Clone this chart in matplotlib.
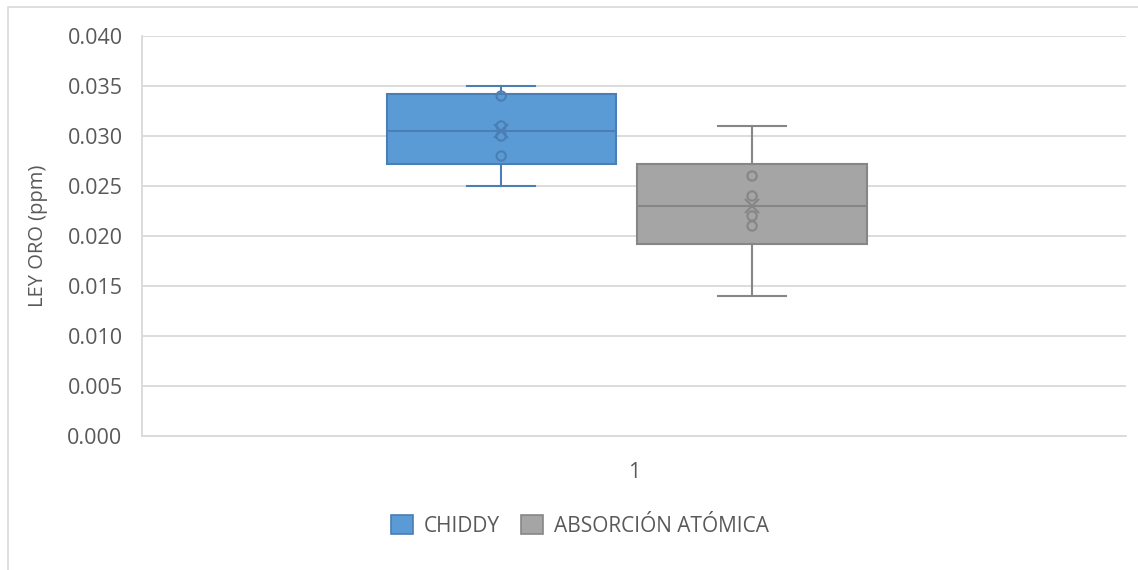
import numpy as np
import matplotlib
matplotlib.use("Agg")
import matplotlib.pyplot as plt
from matplotlib.patches import Patch, Rectangle

# readings per method (ppm)
series_names = ["CHIDDY", "ABSORCIÓN ATÓMICA"]
chiddy = [0.035, 0.034, 0.031, 0.030, 0.028, 0.025]
absorcion = [0.031, 0.026, 0.024, 0.022, 0.021, 0.014]
category_labels = ["1"]

plt.rcParams['font.family'] = ['Open Sans', 'DejaVu Sans']
text_color = '#595959'

fill_colors = ['#5B9BD5', '#A5A5A5']
edge_colors = ['#4A7EB4', '#868686']


def excel_stats(vals, label):
    v = np.array(vals)
    # Excel box & whisker uses exclusive quartiles
    q1, med, q3 = np.percentile(v, [25, 50, 75], method='weibull')
    return dict(label=label, q1=q1, med=med, q3=q3,
                whislo=v.min(), whishi=v.max(), mean=v.mean(), fliers=[])


fig = plt.figure(figsize=(11.38, 5.70), dpi=100)
ax = fig.add_axes([142 / 1138, 1 - 436 / 570, 984 / 1138, 400 / 570])

positions = [0.865, 1.12]
for data, name, pos, fc, ec in zip([chiddy, absorcion], series_names, positions,
                                   fill_colors, edge_colors):
    st = excel_stats(data, name)
    ax.bxp([st], positions=[pos], widths=0.233, capwidths=0.069,
           showmeans=True, showfliers=False, patch_artist=True,
           boxprops=dict(facecolor=fc, edgecolor=ec, linewidth=1.5),
           medianprops=dict(color=ec, linewidth=1.5),
           whiskerprops=dict(color=ec, linewidth=1.5),
           capprops=dict(color=ec, linewidth=1.5),
           meanprops=dict(marker='x', markeredgecolor=ec, markersize=10,
                          markeredgewidth=1.5),
           zorder=3)
    inner = [d for d in data if st['whislo'] < d < st['whishi']]
    ax.scatter([pos] * len(inner), inner, s=45, facecolors='none',
               edgecolors=ec, linewidths=1.5, zorder=4)

ax.set_xlim(0.5, 1.5)
ax.set_ylim(0, 0.040)
ax.set_yticks(np.arange(0, 0.0401, 0.005))
ax.yaxis.set_major_formatter(matplotlib.ticker.FormatStrFormatter('%.3f'))
ax.set_xticks([1])
ax.set_xticklabels(category_labels)
ax.tick_params(axis='both', length=0, labelsize=15.5, colors=text_color)
ax.tick_params(axis='y', pad=14)
ax.tick_params(axis='x', pad=19)
ax.grid(axis='y', color='#D9D9D9', linewidth=1.3)
ax.set_axisbelow(True)
for side in ['top', 'right']:
    ax.spines[side].set_visible(False)
ax.spines['left'].set_color('#D9D9D9')
ax.spines['bottom'].set_color('#D9D9D9')
ax.spines['left'].set_linewidth(1.3)
ax.spines['bottom'].set_linewidth(1.3)

ax.set_ylabel('LEY ORO (ppm)', fontsize=14.5, color=text_color, labelpad=14)

handles = [Patch(facecolor=fc, edgecolor=ec, linewidth=1.2)
           for fc, ec in zip(fill_colors, edge_colors)]
fig.legend(handles, series_names, loc='center', ncol=2, frameon=False,
           bbox_to_anchor=(580 / 1138, 1 - 526 / 570), fontsize=15,
           handlelength=1.05, handleheight=1.05, handletextpad=0.55,
           columnspacing=1.0, labelcolor=text_color)

# chart area border
fig.patches.append(Rectangle((8 / 1138, -0.05), 1.1, 1 - 7 / 570 + 0.05,
                             transform=fig.transFigure, fill=False,
                             edgecolor='#D9D9D9', linewidth=1.2))

fig.savefig('out.png', dpi=100)
